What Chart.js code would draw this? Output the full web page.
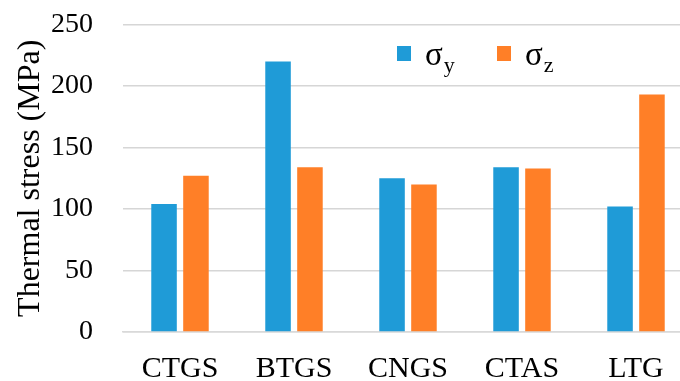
<!DOCTYPE html>
<html>
<head>
<meta charset="utf-8">
<script src="https://cdn.jsdelivr.net/npm/chart.js@4.4.1/dist/chart.umd.min.js"></script>
<style>
  html, body { margin: 0; padding: 0; background: #fff; overflow: hidden; }
  #wrap { position: relative; width: 693px; height: 381px; }
</style>
</head>
<body>
<div id="wrap"><canvas id="stressChart"></canvas></div>
<script>
// values
const categories = ['CTGS', 'BTGS', 'CNGS', 'CTAS', 'LTG'];
const sigmaY = [104, 220, 125, 134, 102];
const sigmaZ = [127, 134, 120, 133, 193];
const seriesLabels = ['σy', 'σz'];
const yTicks = [0, 50, 100, 150, 200, 250];

const blue = '#1f9bd7';
const orange = '#ff7f27';
const serif = '"Liberation Serif", "Times New Roman", serif';

// legend with subscripts, drawn on the canvas
const subLegend = {
    id: 'subLegend',
    afterDraw(chart) {
        const ctx = chart.ctx;
        const xs = [397, 497];
        ctx.save();
        chart.data.datasets.forEach((ds, i) => {
            const x = xs[i];
            ctx.fillStyle = ds.backgroundColor;
            ctx.fillRect(x, 46, 14, 15);
            ctx.fillStyle = '#000';
            ctx.textBaseline = 'alphabetic';
            ctx.textAlign = 'left';
            ctx.font = '33px ' + serif;
            const main = ds.label.charAt(0);
            ctx.fillText(main, x + 28, 65);
            const w = ctx.measureText(main).width;
            ctx.font = '22px ' + serif;
            ctx.fillText(ds.label.slice(1), x + 29 + w, 72);
        });
        ctx.restore();
    }
};

new Chart(document.getElementById('stressChart'), {
    type: 'bar',
    data: {
        labels: categories,
        datasets: [
            { label: seriesLabels[0], data: sigmaY, backgroundColor: blue },
            { label: seriesLabels[1], data: sigmaZ, backgroundColor: orange }
        ]
    },
    options: {
        responsive: true,
        maintainAspectRatio: false,
        animation: false,
        categoryPercentage: 0.56,
        barPercentage: 0.8,
        layout: { padding: { top: 24.5, right: 0, left: 0, bottom: 0 } },
        plugins: {
            legend: { display: false },
            tooltip: { enabled: false }
        },
        scales: {
            x: {
                grid: { display: false },
                border: { color: '#d9d9d9', width: 1.5 },
                ticks: { color: '#000', font: { family: serif, size: 30 }, padding: 11 },
                afterFit(scale) { scale.height = 49; }
            },
            y: {
                min: 0,
                max: 250,
                afterBuildTicks(scale) { scale.ticks = yTicks.map(v => ({ value: v })); },
                grid: { color: '#d6d6d6', lineWidth: 1.5, drawTicks: true, tickLength: 30, tickColor: 'rgba(0,0,0,0)' },
                border: { display: false },
                ticks: { color: '#000', font: { family: serif, size: 28 }, padding: 0 },
                title: {
                    display: true,
                    text: 'Thermal stress (MPa)',
                    color: '#000',
                    font: { family: serif, size: 32 },
                    padding: { top: 11, bottom: 0 }
                },
                afterFit(scale) { scale.width = 123; }
            }
        }
    },
    plugins: [subLegend]
});
</script>
</body>
</html>
